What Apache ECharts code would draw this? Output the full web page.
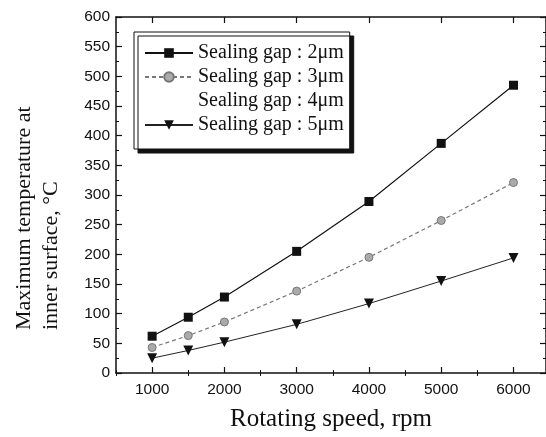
<!DOCTYPE html>
<html><head><meta charset="utf-8">
<script src="https://cdn.jsdelivr.net/npm/echarts@6/dist/echarts.min.js"></script>
<style>html,body{margin:0;padding:0;background:#fff}#c{width:546px;height:437px}</style>
</head><body><div id="c"></div>
<script>
const speeds = [1000, 1500, 2000, 3000, 4000, 5000, 6000];
const gap2 = [62, 94, 128, 205, 289, 387, 485];
const gap3 = [43, 63, 86, 138, 195, 257, 321];
const gap4 = [];
const gap5 = [25, 38, 52, 82, 117, 155, 194];
const xTickLabels = [1000, 2000, 3000, 4000, 5000, 6000];
const xMinorTicks = [500, 1500, 2500, 3500, 4500, 5500];
const seriesNames = ['Sealing gap : 2\u03bcm', 'Sealing gap : 3\u03bcm', 'Sealing gap : 4\u03bcm', 'Sealing gap : 5\u03bcm'];
const xTitle = 'Rotating speed, rpm';
const yTitle = 'Maximum temperature at\ninner surface, \u00b0C';

const pairs = arr => arr.map((v, i) => [speeds[i], v]);
const serif = '"Liberation Serif","DejaVu Serif",serif';
const sans = '"Liberation Sans",Arial,sans-serif';
const chart = echarts.init(document.getElementById('c'));
const lineCol = '#111';
const XMIN = 500, XMAX = 6450;

function xAx(pos, opts) {
  return Object.assign({
    type: 'value', min: XMIN, max: XMAX, interval: 500, position: pos,
    axisLine: {show: true, onZero: false, lineStyle: {color: lineCol, width: 1.5}},
    axisTick: {show: true, inside: true, length: 6, customValues: xTickLabels, lineStyle: {color: lineCol, width: 1.2}},
    axisLabel: {show: false},
    splitLine: {show: false}
  }, opts || {});
}
function xMinorAx(pos) {
  return {
    type: 'value', min: XMIN, max: XMAX, interval: 500, position: pos,
    axisLine: {show: false},
    axisTick: {show: true, inside: true, length: 3, customValues: xMinorTicks, lineStyle: {color: lineCol, width: 1}},
    axisLabel: {show: false},
    splitLine: {show: false}
  };
}
function yAx(pos, opts) {
  return Object.assign({
    type: 'value', min: 0, max: 600, interval: 50, position: pos,
    axisLine: {show: true, onZero: false, lineStyle: {color: lineCol, width: 1.5}},
    axisTick: {show: true, inside: true, length: 6, lineStyle: {color: lineCol, width: 1.2}},
    minorTick: {show: true, splitNumber: 2, length: 3, lineStyle: {color: lineCol, width: 1}},
    axisLabel: {show: false},
    splitLine: {show: false}
  }, opts || {});
}

chart.setOption({
  animation: false,
  backgroundColor: '#fff',
  grid: {left: 116, right: 0, top: 17, bottom: 64},
  legend: {
    left: 134, top: 32, orient: 'vertical',
    backgroundColor: '#fff', borderColor: lineCol, borderWidth: 1,
    shadowColor: lineCol, shadowBlur: 0, shadowOffsetX: 4, shadowOffsetY: 4,
    padding: [10, 6, 13, 10], itemGap: 2, itemWidth: 48, itemHeight: 12, itemTextGap: 6,
    textStyle: {fontFamily: serif, fontSize: 20, color: lineCol, lineHeight: 22},
    data: seriesNames
  },
  graphic: [{
    type: 'text', x: 38, y: 330, rotation: Math.PI / 2,
    style: {text: yTitle, fill: lineCol, font: '22px ' + serif, align: 'left', verticalAlign: 'middle', lineHeight: 27}
  }],
  xAxis: [
    xAx('bottom', {
      name: xTitle, nameLocation: 'middle', nameGap: 34,
      nameTextStyle: {fontFamily: serif, fontSize: 25, color: lineCol},
      axisLabel: {show: true, customValues: xTickLabels, formatter: v => String(v),
        fontFamily: sans, fontSize: 15.5, color: lineCol, margin: 9}
    }),
    xAx('top'),
    xMinorAx('bottom'),
    xMinorAx('top')
  ],
  yAxis: [
    yAx('left', {axisLabel: {show: true, fontFamily: sans, fontSize: 15.5, color: lineCol, margin: 6}}),
    yAx('right')
  ],
  series: [
    {name: seriesNames[0], type: 'line', data: pairs(gap2), symbol: 'rect', symbolSize: 9,
      lineStyle: {color: '#111', width: 1.2}, itemStyle: {color: '#111'}},
    {name: seriesNames[1], type: 'line', data: pairs(gap3), symbol: 'circle', symbolSize: 8,
      lineStyle: {color: '#777', width: 1.2, type: [4, 3]},
      itemStyle: {color: '#aaa', borderColor: '#777', borderWidth: 1}},
    {name: seriesNames[2], type: 'line', data: pairs(gap4), symbol: 'none',
      lineStyle: {color: '#fff', width: 0, opacity: 0}, itemStyle: {color: '#fff', opacity: 0}},
    {name: seriesNames[3], type: 'line', data: pairs(gap5), symbol: 'triangle', symbolRotate: 180, symbolSize: 10,
      lineStyle: {color: '#222', width: 1}, itemStyle: {color: '#111'}}
  ]
});
</script></body></html>
